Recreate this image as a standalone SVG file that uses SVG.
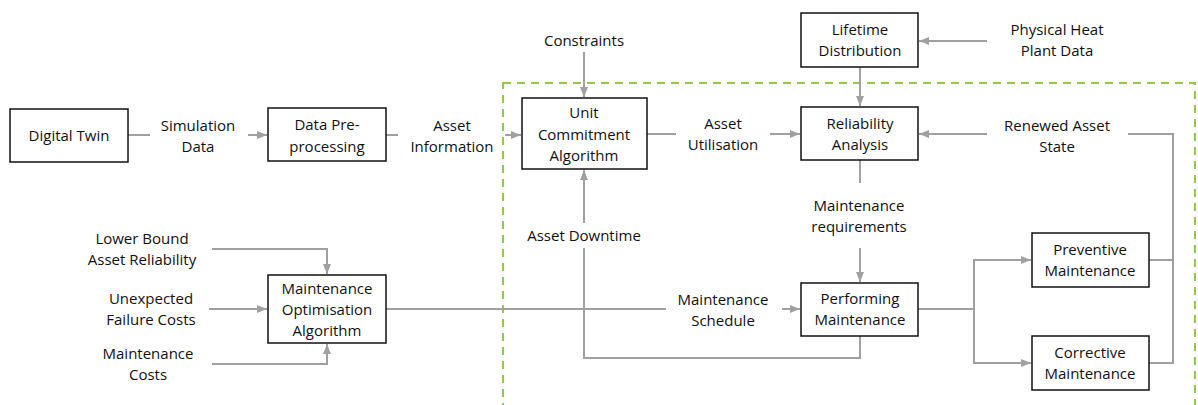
<svg xmlns="http://www.w3.org/2000/svg" width="1198" height="405" viewBox="0 0 1198 405">
<style>
text{font-family:"Open Sans","Noto Sans","Liberation Sans",sans-serif;font-size:15px;fill:#111;text-anchor:middle}
.box{fill:#fff;stroke:#111;stroke-width:1.5}
.ln{fill:none;stroke:#a0a0a0;stroke-width:2}
.ar{fill:none;stroke:#a0a0a0;stroke-width:2;marker-end:url(#ah)}
</style>
<defs>
<marker id="ah" markerUnits="userSpaceOnUse" markerWidth="10" markerHeight="10" viewBox="0 0 10 10" refX="10" refY="5" orient="auto">
<path d="M0,1 L10,5 L0,9 Z" fill="#a0a0a0"/>
</marker>
</defs>
<rect x="503" y="83" width="692" height="340" fill="none" stroke="#8dcc4a" stroke-width="2" stroke-dasharray="8,6"/>
<g id="connectors">
<path class="ln" d="M128,135 H150"/>
<path class="ar" d="M248,135 H267"/>
<path class="ln" d="M386,135 H398"/>
<path class="ar" d="M505,135 H521"/>
<path class="ar" d="M584,52 V97"/>
<path class="ln" d="M647,134 H676"/>
<path class="ar" d="M770,134 H800"/>
<path class="ar" d="M860,67 V106"/>
<path class="ar" d="M987,41 H919"/>
<path class="ar" d="M987,134 H919"/>
<path class="ln" d="M1128,134 H1173 V363 H1149"/>
<path class="ln" d="M1149,260 H1173"/>
<path class="ln" d="M860,160 V183"/>
<path class="ar" d="M860,248 V282"/>
<path class="ln" d="M860,336 V358 H584 V248"/>
<path class="ar" d="M584,223 V170"/>
<path class="ln" d="M386,309 H666"/>
<path class="ar" d="M782,309 H800"/>
<path class="ln" d="M918,309 H974"/>
<path class="ar" d="M974,309 V260 H1031"/>
<path class="ar" d="M974,309 V363 H1031"/>
<path class="ar" d="M212,249 H327 V274"/>
<path class="ar" d="M209,309 H267"/>
<path class="ar" d="M212,364 H327 V344"/>
</g>
<g id="digital-twin"><rect class="box" x="10" y="109" width="118" height="53"/><text x="69" y="141">Digital Twin</text></g>
<g id="data-preprocessing"><rect class="box" x="268" y="108" width="118" height="53"/><text x="327" y="130">Data Pre-</text><text x="327" y="152">processing</text></g>
<g id="unit-commitment"><rect class="box" x="522" y="98" width="125" height="71"/><text x="584" y="118">Unit</text><text x="584" y="140">Commitment</text><text x="584" y="161">Algorithm</text></g>
<g id="reliability-analysis"><rect class="box" x="801" y="107" width="117" height="53"/><text x="860" y="129">Reliability</text><text x="860" y="150">Analysis</text></g>
<g id="lifetime-distribution"><rect class="box" x="801" y="13" width="117" height="54"/><text x="860" y="35">Lifetime</text><text x="860" y="56">Distribution</text></g>
<g id="performing-maintenance"><rect class="box" x="801" y="283" width="117" height="53"/><text x="860" y="304">Performing</text><text x="860" y="325">Maintenance</text></g>
<g id="preventive-maintenance"><rect class="box" x="1032" y="233" width="117" height="54"/><text x="1090" y="255">Preventive</text><text x="1090" y="276">Maintenance</text></g>
<g id="corrective-maintenance"><rect class="box" x="1032" y="336" width="117" height="54"/><text x="1090" y="358">Corrective</text><text x="1090" y="379">Maintenance</text></g>
<g id="maintenance-optimisation"><rect class="box" x="268" y="275" width="118" height="68"/><text x="327" y="294">Maintenance</text><text x="327" y="315">Optimisation</text><text x="327" y="336">Algorithm</text></g>
<g id="labels">
<text x="198" y="131">Simulation</text><text x="198" y="152">Data</text>
<text x="452" y="131">Asset</text><text x="452" y="152">Information</text>
<text x="584" y="46">Constraints</text>
<text x="723" y="129">Asset</text><text x="723" y="150">Utilisation</text>
<text x="1057" y="35">Physical Heat</text><text x="1057" y="56">Plant Data</text>
<text x="1057" y="131">Renewed Asset</text><text x="1057" y="152">State</text>
<text x="859" y="211">Maintenance</text><text x="859" y="232">requirements</text>
<text x="584" y="241">Asset Downtime</text>
<text x="723" y="305">Maintenance</text><text x="723" y="326">Schedule</text>
<text x="142" y="244">Lower Bound</text><text x="142" y="265">Asset Reliability</text>
<text x="151" y="304">Unexpected</text><text x="151" y="325">Failure Costs</text>
<text x="148" y="359">Maintenance</text><text x="148" y="380">Costs</text>
</g>
</svg>
